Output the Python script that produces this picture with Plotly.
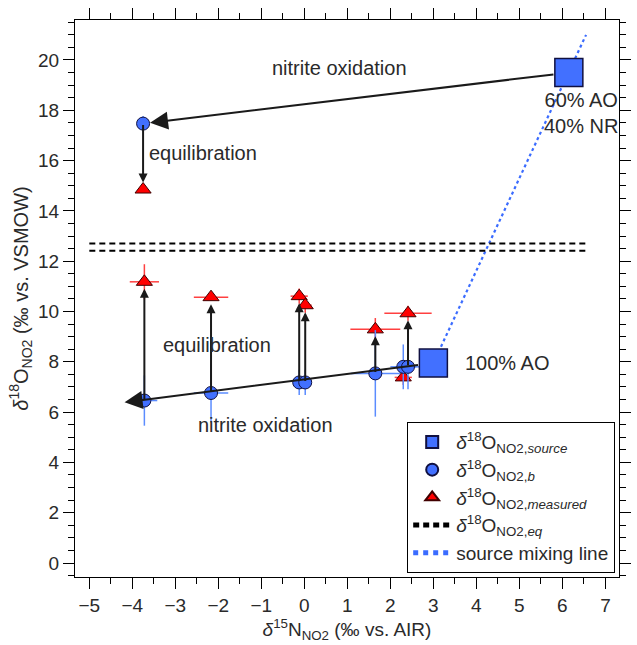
import plotly.graph_objects as go

# ---------------- data ----------------
src_x = [6.15, 3.0]
src_y = [19.5, 7.95]
src_labels = ["60% AO<br>40% NR", "100% AO"]

b_x = [-3.75, -3.72, -2.17, -0.12, 0.02, 1.65, 2.30, 2.41]
b_y = [17.47, 6.46, 6.76, 7.18, 7.18, 7.54, 7.80, 7.80]
b_xerr = [0.0, 0.3, 0.4, 0.05, 0.05, 0.57, 0.3, 0.3]
b_yerr = [0.3, 1.0, 1.17, 0.5, 0.5, 1.72, 0.89, 0.89]

m_x = [-3.75, -3.72, -2.17, -0.12, 0.02, 1.65, 2.30, 2.41]
m_y = [14.85, 11.18, 10.57, 10.61, 10.25, 9.29, 7.38, 9.93]
m_xerr = [0.0, 0.34, 0.4, 0.2, 0.15, 0.58, 0.2, 0.55]
m_yerr = [0.0, 0.7, 0.1, 0.3, 0.3, 0.45, 0.3, 0.3]

eq_y = [12.42, 12.70]
eq_x = [-5.0, 6.55]

mix_x = [3.0, 6.55]
mix_y = [7.95, 21.0]

# oxidation arrows: from source to end point
ox_start_x = [6.15, 3.0]
ox_start_y = [19.5, 7.95]
ox_end_x = [-3.75, -4.18]
ox_end_y = [17.47, 6.39]

x_ticks = list(range(-5, 8))
y_ticks = list(range(0, 21, 2))

FONT = "Liberation Sans, Arial, sans-serif"
BLUE = "#4270ff"
RED = "#ff0000"
TXT = "#2a2a2a"
FS = 20

fig = go.Figure()

fig.add_trace(go.Scatter(
    x=mix_x, y=mix_y, mode="lines",
    line=dict(color="#3b6cff", width=2.2, dash="dot"),
    name="source mixing line", legendrank=5))

for i, yv in enumerate(eq_y):
    fig.add_trace(go.Scatter(
        x=eq_x, y=[yv, yv], mode="lines",
        line=dict(color="black", width=2, dash="6px,4px"),
        name="<i>δ</i><sup>18</sup>O<sub>NO2,<i>eq</i></sub>",
        showlegend=(i == 0), legendgroup="eq", legendrank=4))

fig.add_trace(go.Scatter(
    x=m_x, y=m_y, mode="markers",
    marker=dict(symbol="triangle-up", size=14, color=RED,
                line=dict(color="#400000", width=1)),
    error_x=dict(type="data", array=m_xerr, color="#ff4040", thickness=1.5, width=0),
    error_y=dict(type="data", array=m_yerr, color="#ff4040", thickness=1.5, width=0),
    name="<i>δ</i><sup>18</sup>O<sub>NO2,<i>measured</i></sub>", legendrank=3))

fig.add_trace(go.Scatter(
    x=b_x, y=b_y, mode="markers",
    marker=dict(symbol="circle", size=13, color=BLUE,
                line=dict(color="#101040", width=1)),
    error_x=dict(type="data", array=b_xerr, color="#5b8cff", thickness=1.5, width=0),
    error_y=dict(type="data", array=b_yerr, color="#5b8cff", thickness=1.5, width=0),
    name="<i>δ</i><sup>18</sup>O<sub>NO2,<i>b</i></sub>", legendrank=2))

fig.add_trace(go.Scatter(
    x=src_x, y=src_y, mode="markers",
    marker=dict(symbol="square", size=28, color=BLUE,
                line=dict(color="#101040", width=1.5)),
    name="<i>δ</i><sup>18</sup>O<sub>NO2,<i>source</i></sub>", legendrank=1))

annotations = []
# long oxidation arrows
for sx, sy, ex, ey, so in zip(ox_start_x, ox_start_y, ox_end_x, ox_end_y, [7, 0]):
    annotations.append(dict(
        x=ex, y=ey, ax=sx, ay=sy, xref="x", yref="y", axref="x", ayref="y",
        showarrow=True, arrowhead=2, arrowsize=1.8, arrowwidth=2,
        arrowcolor="#1a1a1a", standoff=so, startstandoff=14, text=""))
# equilibration arrows
for bx, by, my in zip(b_x, b_y, m_y):
    if abs(my - by) > 1.0:
        annotations.append(dict(
            x=bx, y=my, ax=bx, ay=by, xref="x", yref="y", axref="x", ayref="y",
            showarrow=True, arrowhead=2, arrowsize=0.9, arrowwidth=2,
            arrowcolor="#1a1a1a", standoff=7, startstandoff=0, text=""))

tfont = dict(family=FONT, size=FS, color=TXT)
annotations += [
    dict(x=0.81, y=19.67, text="nitrite oxidation", showarrow=False, font=tfont),
    dict(x=-2.35, y=16.3, text="equilibration", showarrow=False, font=tfont),
    dict(x=-2.03, y=8.66, text="equilibration", showarrow=False, font=tfont),
    dict(x=-0.9, y=5.48, text="nitrite oxidation", showarrow=False, font=tfont),
    dict(x=src_x[0], y=src_y[0], text=src_labels[0], showarrow=False, font=tfont,
         yanchor="top", xanchor="center", yshift=-14, xshift=12),
    dict(x=src_x[1], y=src_y[1], text=src_labels[1], showarrow=False, font=tfont,
         xanchor="left", xshift=30),
]

axis_common = dict(
    showline=True, linecolor="black", linewidth=1, mirror="ticks",
    ticks="outside", ticklen=11, tickwidth=1, tickcolor="black",
    showgrid=False, zeroline=False,
    tickfont=dict(family=FONT, size=19, color=TXT),
)

fig.update_layout(
    width=637, height=645,
    margin=dict(l=75, r=6, t=20, b=68),
    paper_bgcolor="white", plot_bgcolor="white",
    font=dict(family=FONT, size=FS, color=TXT),
    annotations=annotations,
    showlegend=True,
    legend=dict(
        x=0.993, y=0.007, xanchor="right", yanchor="bottom",
        bordercolor="black", borderwidth=1, bgcolor="white",
        font=dict(family=FONT, size=19, color=TXT),
        itemsizing="constant", itemwidth=38, tracegroupgap=0,
    ),
    xaxis=dict(
        range=[-5.333, 7.316], tickmode="array", tickvals=x_ticks,
        minor=dict(dtick=0.5, tick0=-5, ticks="outside", ticklen=6, tickcolor="black"),
        title=dict(text="<i>δ</i><sup>15</sup>N<sub>NO2</sub> (‰ vs. AIR)",
                   font=dict(family=FONT, size=19, color=TXT), standoff=2),
        **axis_common),
    yaxis=dict(
        range=[-0.556, 21.59], tickmode="array", tickvals=y_ticks,
        minor=dict(dtick=0.5, tick0=0, ticks="outside", ticklen=6, tickcolor="black"),
        title=dict(text="<i>δ</i><sup>18</sup>O<sub>NO2</sub> (‰ vs. VSMOW)",
                   font=dict(family=FONT, size=FS, color=TXT), standoff=4),
        **axis_common),
)

fig.write_html("out.html")
